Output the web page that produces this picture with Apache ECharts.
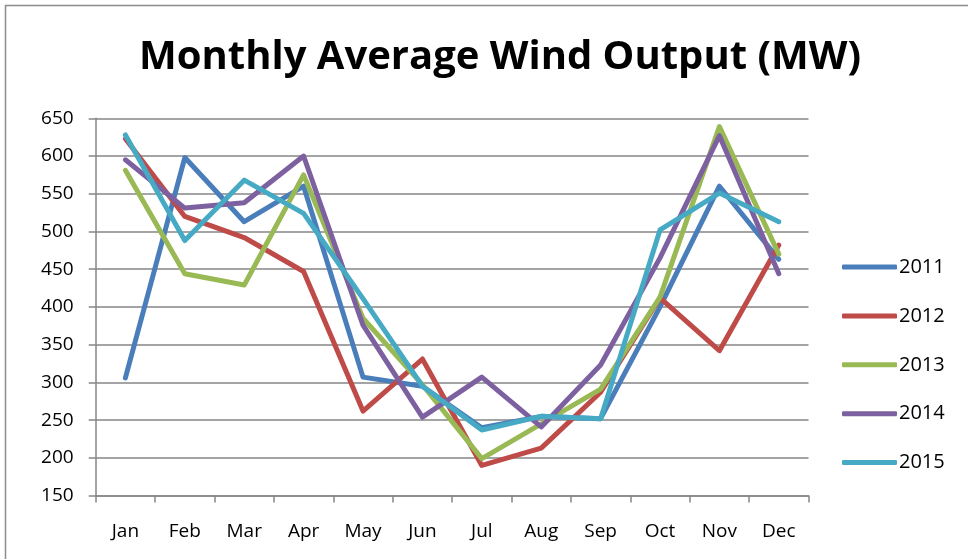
<!DOCTYPE html>
<html><head><meta charset="utf-8">
<script src="https://cdn.jsdelivr.net/npm/echarts@6/dist/echarts.min.js"></script>
<style>html,body{margin:0;padding:0;background:#fff}#c{width:968px;height:559px}</style>
</head><body><div id="c"></div>
<script>
const months = ['Jan','Feb','Mar','Apr','May','Jun','Jul','Aug','Sep','Oct','Nov','Dec'];
const s2011 = [306, 598, 513, 560, 307, 295, 240, 255, 252, 400, 560, 463];
const s2012 = [623, 520, 492, 447, 262, 331, 190, 213, 287, 412, 342, 482];
const s2013 = [581, 444, 429, 575, 385, 297, 199, 245, 291, 413, 639, 470];
const s2014 = [595, 531, 538, 600, 376, 254, 307, 241, 323, 465, 627, 444];
const s2015 = [628, 488, 568, 524, 411, 295, 237, 255, 252, 502, 551, 513];
const seriesNames = ['2011','2012','2013','2014','2015'];
const seriesData = [s2011, s2012, s2013, s2014, s2015];
const colors = ['#4A7EBB','#BE4B48','#98B954','#7D60A0','#46AAC5'];
const yTicks = {min:150, max:650, interval:50};

const chart = echarts.init(document.getElementById('c'));
const font = 'Open Sans, Noto Sans, sans-serif';
chart.setOption({
  animation:false,
  backgroundColor:'#fff',
  color: colors,
  graphic:[
    {type:'rect', shape:{x:5.5,y:5.5,width:1000,height:600}, style:{fill:'none',stroke:'#8c8c8c',lineWidth:1.5}, silent:true},
    {type:'text', x:500, y:58, style:{text:'Monthly Average Wind Output (MW)', font:'bold 40px '+font, fill:'#000', align:'center', verticalAlign:'middle'}}
  ],
  grid:{left:95.7, right:159.5, top:118.3, bottom:63.4, containLabel:false},
  legend:{
    orient:'vertical', left:842, top:257, padding:0, itemGap:28.9, itemWidth:55, itemHeight:5,
    icon:'roundRect',
    textStyle:{fontSize:20, fontFamily:font, color:'#000', padding:[0,0,0,-3]},
    data: seriesNames.map((n,i)=>({name:n, itemStyle:{color:colors[i]}}))
  },
  xAxis:{
    type:'category', data:months, boundaryGap:true,
    axisLine:{lineStyle:{color:'#868686', width:1.5}},
    axisTick:{show:true, length:7, inside:false, lineStyle:{color:'#868686', width:1.5}},
    axisLabel:{fontSize:19, fontFamily:font, color:'#000', margin:26},
    splitLine:{show:false}
  },
  yAxis:{
    type:'value', min:yTicks.min, max:yTicks.max, interval:yTicks.interval,
    axisLine:{show:true, lineStyle:{color:'#868686', width:1.5}},
    axisTick:{show:true, length:7, lineStyle:{color:'#868686', width:1.5}},
    axisLabel:{fontSize:19, fontFamily:font, color:'#000', margin:22},
    splitLine:{show:true, lineStyle:{color:'#868686', width:1.5}}
  },
  series: seriesData.map((d,i)=>({
    name:seriesNames[i], type:'line', data:d, symbol:'none',
    lineStyle:{width:5, color:colors[i], cap:'round', join:'round'},
    itemStyle:{color:colors[i]}
  }))
});
</script></body></html>
